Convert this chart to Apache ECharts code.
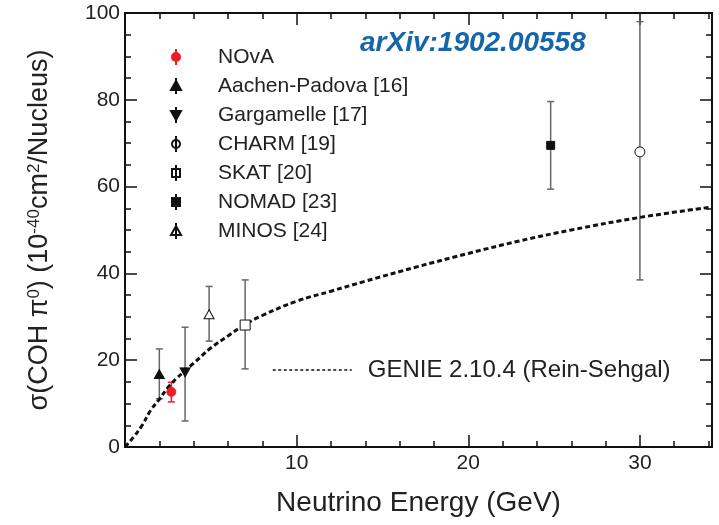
<!DOCTYPE html>
<html>
<head>
<meta charset="utf-8">
<script src="https://cdn.jsdelivr.net/npm/echarts@6/dist/echarts.min.js"></script>
<style>
  html, body { margin: 0; padding: 0; background: #fff; }
  #main { width: 719px; height: 525px; }
</style>
</head>
<body>
<div id="main"></div>
<script>
// measurements (GeV, 10^-40 cm^2/Nucleus)
const experiments = ['NOvA', 'Aachen-Padova [16]', 'Gargamelle [17]', 'CHARM [19]', 'SKAT [20]', 'NOMAD [23]', 'MINOS [24]'];
const energy = [2.7, 2.0, 3.5, 30.0, 7.0, 24.8, 4.9];
const sigma = [12.7, 16.8, 17.2, 68.0, 28.1, 69.5, 30.6];
const errLow = [2.3, 5.7, 11.2, 29.5, 10.1, 10.1, 6.2];
const errHigh = [2.2, 5.8, 10.4, 30.0, 10.4, 10.1, 6.4];

// GENIE 2.10.4 (Rein-Sehgal) prediction
const genieName = 'GENIE 2.10.4 (Rein-Sehgal)';
const genieE = [0, 0.5, 1, 1.5, 2, 2.5, 3, 3.5, 4, 5, 6, 7, 8, 10, 12, 14, 17, 20, 23, 26, 30, 34.2];
const genieSigma = [0, 2.3, 5.0, 8.5, 11.0, 13.7, 15.8, 17.6, 19.3, 22.8, 25.6, 28.2, 30.3, 33.6, 35.9, 38.2, 41.5, 44.6, 47.5, 50.0, 52.9, 55.3];

const xTicks = { min: 0, max: 34.2, major: 10, minor: 2 };
const yTicks = { min: 0, max: 100, major: 20 };

const FONT = '"Liberation Sans", Arial, Helvetica, sans-serif';
const INK = '#111';

// look of each experiment: plot symbol, legend icon (marker + error bar), fill
const CIRCLE = 'path://M5,0L5,16M9,8A4,4,0,1,1,1,8A4,4,0,1,1,9,8Z';
const TRI_UP = 'path://M5,0L5,16M5,3L10,12L0,12Z';
const TRI_DOWN = 'path://M5,0L5,16M0,4L10,4L5,13Z';
const SQUARE = 'path://M5,0L5,16M1,4L9,4L9,12L1,12Z';
const looks = [
  { symbol: 'circle', size: 9, rotate: 0, icon: CIRCLE, fill: '#ee1c24', stroke: '#ee1c24' },
  { symbol: 'triangle', size: [10, 9], rotate: 0, icon: TRI_UP, fill: INK, stroke: INK },
  { symbol: 'triangle', size: [10, 9], rotate: 180, icon: TRI_DOWN, fill: INK, stroke: INK },
  { symbol: 'circle', size: 10, rotate: 0, icon: CIRCLE, fill: '#fff', stroke: INK },
  { symbol: 'rect', size: 10, rotate: 0, icon: SQUARE, fill: '#fff', stroke: INK },
  { symbol: 'rect', size: 8, rotate: 0, icon: SQUARE, fill: INK, stroke: INK },
  { symbol: 'triangle', size: [10, 9], rotate: 0, icon: TRI_UP, fill: '#fff', stroke: INK }
];
const barColor = experiments.map((n, i) => i === 0 ? '#ee1c24' : '#666');

const chart = echarts.init(document.getElementById('main'));

function xAxis(position, interval, tickLen, labels) {
  return {
    type: 'value', position: position, min: xTicks.min, max: xTicks.max, interval: interval,
    axisLine: { show: true, onZero: false, lineStyle: { color: INK, width: 2 } },
    axisTick: { show: true, inside: true, length: tickLen, lineStyle: { color: INK, width: 1.5 } },
    axisLabel: labels ? { fontSize: 21, fontFamily: FONT, color: '#222', margin: 6, showMinLabel: false, showMaxLabel: false } : { show: false },
    splitLine: { show: false }
  };
}

function yAxis(position, labels) {
  return {
    type: 'value', position: position, min: yTicks.min, max: yTicks.max, interval: yTicks.major,
    axisLine: { show: true, onZero: false, lineStyle: { color: INK, width: 2 } },
    axisTick: { show: true, inside: true, length: 12, lineStyle: { color: INK, width: 1.5 } },
    minorTick: { show: true, splitNumber: 4, length: 6, lineStyle: { color: INK, width: 1.5 } },
    axisLabel: labels ? { fontSize: 21, fontFamily: FONT, color: '#222', margin: 5 } : { show: false },
    splitLine: { show: false }
  };
}

const xBottom = xAxis('bottom', xTicks.major, 12, true);
xBottom.name = 'Neutrino Energy (GeV)';
xBottom.nameLocation = 'middle';
xBottom.nameGap = 42;
xBottom.nameTextStyle = { fontSize: 28, fontFamily: FONT, color: '#222' };

const yLeft = yAxis('left', true);
yLeft.name = '{a|σ(COH π}{s|0}{a|) (10}{s|-40}{a|cm}{s|2}{a|/Nucleus)}';
yLeft.nameLocation = 'middle';
yLeft.nameGap = 72;
yLeft.nameRotate = 90;
yLeft.nameTextStyle = {
  fontFamily: FONT, color: '#222', fontSize: 27,
  rich: {
    a: { fontSize: 27, fontFamily: FONT, color: '#222' },
    s: { fontSize: 17, fontFamily: FONT, color: '#222', verticalAlign: 'top' }
  }
};

// experiment points
const pointSeries = experiments.map((name, i) => ({
  name: name,
  type: 'scatter',
  z: 5,
  symbol: looks[i].symbol,
  symbolSize: looks[i].size,
  symbolRotate: looks[i].rotate,
  itemStyle: { color: looks[i].fill, borderColor: looks[i].stroke, borderWidth: 1, opacity: 1 },
  data: [[energy[i], sigma[i]]]
}));

// error bars with caps
const barSeries = {
  type: 'custom',
  z: 3,
  silent: true,
  data: energy.map((e, i) => [e, sigma[i] - errLow[i], sigma[i] + errHigh[i]]),
  renderItem: function (params, api) {
    const x = api.value(0);
    const top = api.coord([x, api.value(2)]);
    const bot = api.coord([x, api.value(1)]);
    const cap = 3.5;
    const style = { stroke: barColor[params.dataIndex], lineWidth: 1.5 };
    return {
      type: 'group',
      children: [
        { type: 'line', shape: { x1: top[0], y1: top[1], x2: bot[0], y2: bot[1] }, style: style },
        { type: 'line', shape: { x1: top[0] - cap, y1: top[1], x2: top[0] + cap, y2: top[1] }, style: style },
        { type: 'line', shape: { x1: bot[0] - cap, y1: bot[1], x2: bot[0] + cap, y2: bot[1] }, style: style }
      ]
    };
  }
};

const genieSeries = {
  name: genieName,
  type: 'line',
  z: 4,
  smooth: 0.4,
  symbol: 'none',
  lineStyle: { color: INK, width: 3, type: [5, 3] },
  itemStyle: { color: INK },
  data: genieE.map((e, i) => [e, genieSigma[i]])
};

chart.setOption({
  animation: false,
  backgroundColor: '#fff',
  title: {
    text: 'arXiv:1902.00558',
    left: 355, top: 24,
    textStyle: { fontSize: 28, fontWeight: 'bold', fontStyle: 'italic', fontFamily: FONT, color: '#1565ab' }
  },
  grid: { left: 125, right: 7, top: 13, bottom: 78, containLabel: false },
  legend: [
    {
      orient: 'vertical',
      left: 165, top: 41,
      itemWidth: 10, itemHeight: 16, itemGap: 7,
      selectedMode: false,
      textStyle: { fontSize: 21, fontFamily: FONT, color: '#222', lineHeight: 22, padding: [0, 0, 0, 32] },
      data: experiments.map((name, i) => ({ name: name, icon: looks[i].icon }))
    },
    {
      left: 267, top: 353,
      itemWidth: 79, itemHeight: 10,
      selectedMode: false,
      itemStyle: { color: 'rgba(0,0,0,0)', borderColor: 'rgba(0,0,0,0)', borderWidth: 0, opacity: 0 },
      lineStyle: { width: 1.5, type: [3, 2.5] },
      textStyle: { fontSize: 24, fontFamily: FONT, color: '#222', lineHeight: 24, padding: [0, 0, 0, 11] },
      data: [genieName]
    }
  ],
  xAxis: [
    xBottom,
    xAxis('bottom', xTicks.minor, 6, false),
    xAxis('top', xTicks.major, 12, false),
    xAxis('top', xTicks.minor, 6, false)
  ],
  yAxis: [yLeft, yAxis('right', false)],
  series: [barSeries, genieSeries].concat(pointSeries)
});
</script>
</body>
</html>
